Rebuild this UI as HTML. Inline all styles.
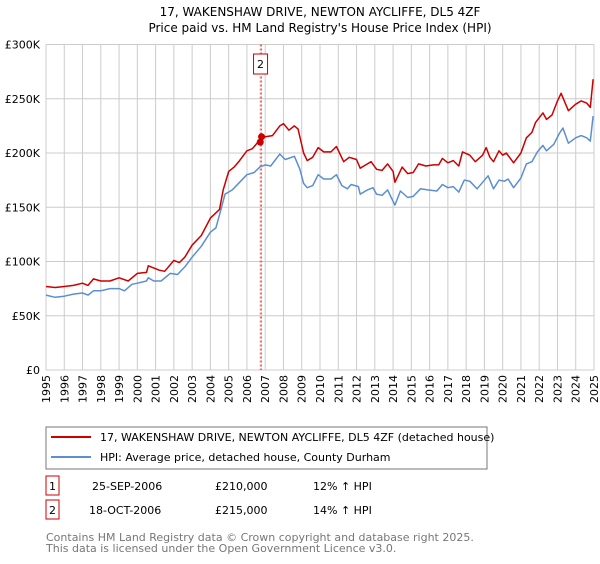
<!DOCTYPE html>
<html><head><meta charset="utf-8"><style>
body{margin:0;background:#fff;font-family:"DejaVu Sans","Liberation Sans",sans-serif;}
svg text{font-family:"DejaVu Sans","Liberation Sans",sans-serif;}
</style></head><body>
<svg id="c" width="600" height="560" xmlns="http://www.w3.org/2000/svg">
<text x="320" y="16" text-anchor="middle" font-size="12">17, WAKENSHAW DRIVE, NEWTON AYCLIFFE, DL5 4ZF</text>
<text x="320" y="32" text-anchor="middle" font-size="12">Price paid vs. HM Land Registry's House Price Index (HPI)</text>
<g id="grid"></g>
<g id="series"></g>
<rect x="46" y="427" width="441" height="42" fill="#fff" stroke="#777"/>
<line x1="51" y1="437" x2="91" y2="437" stroke="#cc0000" stroke-width="2"/>
<text x="100" y="441" font-size="11">17, WAKENSHAW DRIVE, NEWTON AYCLIFFE, DL5 4ZF (detached house)</text>
<line x1="51" y1="457" x2="91" y2="457" stroke="#5b8fd0" stroke-width="2"/>
<text x="100" y="461" font-size="11">HPI: Average price, detached house, County Durham</text>
<rect x="46" y="476" width="13" height="19" fill="#fff" stroke="#cc0000"/>
<text x="52.5" y="490" font-size="11" text-anchor="middle">1</text>
<text x="92" y="490" font-size="11">25-SEP-2006</text>
<text x="215" y="490" font-size="11">£210,000</text>
<text x="313" y="490" font-size="11">12% ↑ HPI</text>
<rect x="46" y="500" width="13" height="19" fill="#fff" stroke="#cc0000"/>
<text x="52.5" y="514" font-size="11" text-anchor="middle">2</text>
<text x="89" y="514" font-size="11">18-OCT-2006</text>
<text x="215" y="514" font-size="11">£215,000</text>
<text x="313" y="514" font-size="11">14% ↑ HPI</text>
<text x="46" y="541" font-size="11" fill="#777">Contains HM Land Registry data © Crown copyright and database right 2025.</text>
<text x="46" y="552" font-size="11" fill="#777">This data is licensed under the Open Government Licence v3.0.</text>
</svg>
<script>
const years=[1995,1996,1997,1998,1999,2000,2001,2002,2003,2004,2005,2006,2007,2008,2009,2010,2011,2012,2013,2014,2015,2016,2017,2018,2019,2020,2021,2022,2023,2024,2025];
const yTicks=[0,50000,100000,150000,200000,250000,300000];
const yTickLabels=["£0","£50K","£100K","£150K","£200K","£250K","£300K"];
const propT=[1995,1995.5,1996,1996.5,1997,1997.3,1997.6,1998,1998.5,1999,1999.5,2000,2000.5,2000.6,2001.2,2001.5,2002,2002.3,2002.6,2003,2003.5,2004,2004.5,2004.7,2005,2005.3,2005.6,2006,2006.3,2006.7,2007,2007.4,2007.8,2008,2008.3,2008.6,2008.8,2009.1,2009.3,2009.6,2009.9,2010.2,2010.6,2010.9,2011.3,2011.6,2012,2012.2,2012.5,2012.8,2013.1,2013.4,2013.7,2014,2014.1,2014.5,2014.8,2015.1,2015.4,2015.8,2016.2,2016.5,2016.7,2017,2017.3,2017.6,2017.8,2018.2,2018.5,2018.9,2019.1,2019.3,2019.5,2019.8,2020,2020.2,2020.6,2021,2021.3,2021.6,2021.8,2022.2,2022.4,2022.7,2023,2023.2,2023.6,2024,2024.3,2024.6,2024.8,2024.95];
const propV=[77,76,77,78,80,78,84,82,82,85,82,89,90,96,92,91,101,99,104,115,124,140,148,166,183,187,193,202,204,212,215,216,225,227,221,225,222,200,193,196,205,201,201,206,192,196,194,186,189,192,185,184,190,183,173,187,181,182,190,188,189,189,195,191,193,188,201,198,192,198,205,196,192,202,198,200,191,200,214,219,228,237,231,235,248,255,239,245,248,246,242,268];
const hpiT=[1995,1995.5,1996,1996.5,1997,1997.3,1997.6,1998,1998.5,1999,1999.3,1999.7,2000,2000.5,2000.6,2000.9,2001.3,2001.8,2002.2,2002.6,2003,2003.5,2004,2004.3,2004.5,2004.8,2005.2,2005.6,2006,2006.4,2006.7,2007,2007.3,2007.8,2008.1,2008.6,2008.9,2009.1,2009.3,2009.6,2009.9,2010.2,2010.6,2010.9,2011.2,2011.5,2011.7,2012.1,2012.2,2012.6,2012.9,2013.1,2013.4,2013.7,2013.9,2014.1,2014.4,2014.8,2015.1,2015.5,2015.9,2016.4,2016.7,2017,2017.3,2017.6,2017.9,2018.2,2018.6,2018.9,2019.2,2019.5,2019.8,2020.1,2020.3,2020.6,2021,2021.3,2021.6,2021.9,2022.2,2022.4,2022.8,2023.1,2023.3,2023.6,2024,2024.3,2024.6,2024.8,2024.95];
const hpiV=[69,67,68,70,71,69,73,73,75,75,73,79,80,82,85,82,82,89,88,95,104,114,127,131,143,162,166,173,180,182,187,189,188,199,194,197,185,172,168,170,180,176,176,180,170,167,171,169,162,166,168,162,161,166,159,152,165,159,160,167,166,165,171,168,169,164,175,174,167,173,179,167,175,174,176,168,177,190,192,201,207,202,208,218,223,209,214,216,214,211,234];
const saleT=[2006.73,2006.80];
const saleV=[210000,215000];
const saleLabels=["1","2"];

const NS="http://www.w3.org/2000/svg";
const L=46,R=594,T=44.5,B=370;
const x=t=>L+(t-1995)/30*(R-L);
const y=v=>B-v/300000*(B-T);
function mk(tag,attrs,parent){const e=document.createElementNS(NS,tag);for(const k in attrs)e.setAttribute(k,attrs[k]);parent.appendChild(e);return e;}
const grid=document.getElementById('grid'),ser=document.getElementById('series');
years.forEach(yr=>{
  const l=mk('line',{x1:x(yr),x2:x(yr),y1:T,y2:B,stroke:'#ccc','stroke-width':1},grid);
  
  
  const t=mk('text',{transform:`translate(${x(yr)+4},${B+5}) rotate(-90)`,'text-anchor':'end','font-size':11},grid);
  t.textContent=yr;
  
  
});
yTicks.forEach((v,i)=>{
  const l=mk('line',{x1:L,x2:R,y1:y(v),y2:y(v),stroke:'#ccc','stroke-width':1},grid);
  
  
  const t=mk('text',{x:40,y:y(v)+4,'text-anchor':'end','font-size':11},grid);
  t.textContent=yTickLabels[i];
  
  
});
saleT.forEach((t,i)=>{
  const l=mk('line',{x1:x(t),x2:x(t),y1:T,y2:B,stroke:'#ee5555','stroke-width':1,'stroke-dasharray':'2,2'},ser);
  
  
});
const bx=x(saleT[1]);
const br=mk('rect',{x:bx-8,y:54,width:14,height:20,fill:'#fff',stroke:'#cc0000'},ser);


const bt=mk('text',{x:bx-1,y:68,'text-anchor':'middle','font-size':11},ser);
bt.textContent=saleLabels[1];


function line(ts,vs,col,name){
  const d=ts.map((t,i)=>(i?'L':'M')+x(t).toFixed(1)+','+y(vs[i]*1000).toFixed(1)).join('');
  const p=mk('path',{d:d,fill:'none',stroke:col,'stroke-width':1.5,'stroke-linejoin':'round'},ser);
  
  
}
line(hpiT,hpiV,'#5b8fd0','hpi-line');
line(propT,propV,'#cc0000','property-line');
saleT.forEach((t,i)=>{
  const c=mk('circle',{cx:x(t),cy:y(saleV[i]),r:3.5,fill:'#cc0000'},ser);
  
  
});
</script>
</body></html>
